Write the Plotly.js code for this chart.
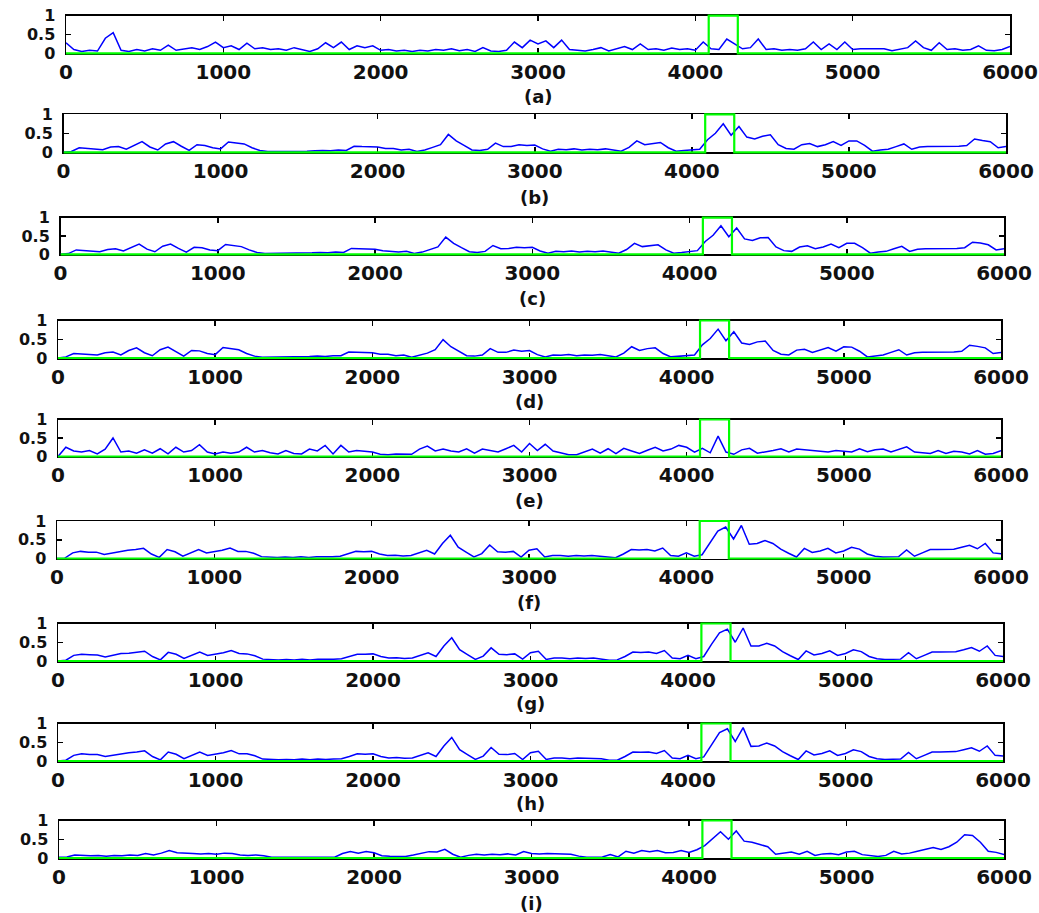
<!DOCTYPE html>
<html><head><meta charset="utf-8">
<script src="https://cdn.plot.ly/plotly-3.0.1.min.js"></script>
<style>html,body{margin:0;padding:0;background:#fff}#chart{width:1039px;height:913px}</style>
</head><body><div id="chart"></div>
<script>
// ---------------- data ----------------
const panelLabels = ['(a)','(b)','(c)','(d)','(e)','(f)','(g)','(h)','(i)'];
const xTickValues = [0,1000,2000,3000,4000,5000,6000];
const yTickValues = [0,0.5,1];
const yTickText = ['0','0.5','1'];
const roiStart = 4085, roiEnd = 4270, xMax = 6000;

const sampleX = [
0,50,100,150,200,250,300,350,400,450,
500,550,600,650,700,750,800,850,900,950,
1000,1050,1100,1150,1200,1250,1300,1350,1400,1450,
1500,1550,1600,1650,1700,1750,1800,1850,1900,1950,
2000,2050,2100,2150,2200,2250,2300,2350,2400,2450,
2500,2550,2600,2650,2700,2750,2800,2850,2900,2950,
3000,3050,3100,3150,3200,3250,3300,3350,3400,3450,
3500,3550,3600,3650,3700,3750,3800,3850,3900,3950,
4000,4050,4100,4150,4200,4250,4300,4350,4400,4450,
4500,4550,4600,4650,4700,4750,4800,4850,4900,4950,
5000,5050,5100,5150,5200,5250,5300,5350,5400,5450,
5500,5550,5600,5650,5700,5750,5800,5850,5900,5950,
6000];

const seriesA = [
0.28,0.10,0.05,0.08,0.06,0.40,0.55,0.08,0.05,0.10,
0.06,0.12,0.08,0.22,0.08,0.12,0.15,0.10,0.18,0.30,
0.15,0.20,0.10,0.27,0.12,0.15,0.10,0.12,0.08,0.15,
0.10,0.05,0.12,0.28,0.15,0.30,0.10,0.20,0.15,0.20,
0.08,0.10,0.06,0.08,0.05,0.08,0.06,0.10,0.08,0.12,
0.07,0.10,0.05,0.15,0.06,0.05,0.08,0.30,0.15,0.35,
0.25,0.33,0.15,0.35,0.10,0.08,0.06,0.10,0.15,0.06,
0.12,0.18,0.10,0.25,0.10,0.12,0.08,0.14,0.10,0.12,
0.08,0.30,0.12,0.10,0.38,0.25,0.12,0.15,0.38,0.10,
0.12,0.08,0.10,0.08,0.12,0.30,0.10,0.25,0.10,0.30,
0.10,0.12,0.12,0.13,0.12,0.07,0.10,0.15,0.33,0.15,
0.08,0.28,0.10,0.12,0.08,0.10,0.20,0.08,0.07,0.10,
0.18];

const seriesB = [
0.00,0.02,0.12,0.10,0.08,0.07,0.14,0.15,0.08,0.19,
0.28,0.14,0.06,0.22,0.28,0.16,0.05,0.20,0.18,0.12,
0.09,0.27,0.25,0.22,0.12,0.05,0.02,0.02,0.02,0.02,
0.02,0.03,0.04,0.05,0.04,0.06,0.05,0.16,0.15,0.14,
0.14,0.10,0.10,0.06,0.08,0.02,0.06,0.13,0.20,0.47,
0.30,0.18,0.06,0.05,0.08,0.24,0.15,0.15,0.20,0.18,
0.19,0.09,0.03,0.08,0.07,0.09,0.06,0.08,0.07,0.09,
0.06,0.03,0.13,0.30,0.20,0.24,0.26,0.12,0.03,0.05,
0.06,0.08,0.33,0.50,0.75,0.45,0.68,0.40,0.35,0.42,
0.46,0.20,0.10,0.08,0.20,0.23,0.15,0.20,0.28,0.18,
0.30,0.30,0.18,0.03,0.06,0.08,0.15,0.22,0.08,0.14,
0.15,0.15,0.15,0.15,0.16,0.18,0.35,0.31,0.28,0.12,
0.15];

const seriesC = [
0.00,0.02,0.12,0.11,0.08,0.07,0.13,0.15,0.09,0.18,
0.28,0.14,0.07,0.22,0.28,0.16,0.06,0.19,0.18,0.12,
0.10,0.27,0.24,0.21,0.12,0.05,0.02,0.02,0.02,0.02,
0.02,0.03,0.04,0.05,0.04,0.06,0.05,0.16,0.15,0.14,
0.14,0.10,0.09,0.06,0.08,0.02,0.06,0.13,0.20,0.47,
0.30,0.18,0.07,0.05,0.08,0.24,0.15,0.16,0.19,0.18,
0.19,0.09,0.03,0.08,0.07,0.09,0.06,0.08,0.07,0.09,
0.06,0.03,0.13,0.30,0.21,0.24,0.26,0.12,0.03,0.05,
0.07,0.10,0.35,0.52,0.78,0.48,0.72,0.42,0.38,0.45,
0.46,0.20,0.10,0.08,0.20,0.23,0.15,0.20,0.28,0.18,
0.30,0.30,0.18,0.03,0.06,0.08,0.15,0.22,0.08,0.14,
0.15,0.15,0.15,0.15,0.16,0.18,0.33,0.31,0.26,0.12,
0.15];

const seriesD = [
0.00,0.03,0.12,0.10,0.09,0.08,0.14,0.16,0.08,0.20,
0.27,0.14,0.06,0.22,0.29,0.16,0.05,0.20,0.19,0.12,
0.09,0.28,0.25,0.22,0.12,0.05,0.02,0.02,0.02,0.02,
0.02,0.03,0.04,0.05,0.04,0.06,0.06,0.16,0.15,0.14,
0.14,0.10,0.10,0.06,0.08,0.02,0.07,0.13,0.22,0.49,
0.30,0.17,0.06,0.05,0.08,0.25,0.15,0.15,0.21,0.18,
0.20,0.09,0.03,0.08,0.07,0.09,0.06,0.08,0.07,0.09,
0.06,0.03,0.13,0.30,0.20,0.25,0.27,0.12,0.03,0.05,
0.06,0.08,0.35,0.52,0.77,0.46,0.70,0.40,0.36,0.43,
0.45,0.20,0.10,0.08,0.21,0.23,0.15,0.21,0.28,0.18,
0.30,0.29,0.18,0.03,0.06,0.08,0.15,0.22,0.08,0.14,
0.15,0.15,0.15,0.15,0.16,0.18,0.34,0.31,0.27,0.12,
0.15];

const seriesE = [
0.00,0.25,0.15,0.12,0.16,0.07,0.20,0.50,0.12,0.15,
0.09,0.18,0.09,0.21,0.07,0.25,0.12,0.16,0.32,0.12,
0.07,0.12,0.09,0.12,0.25,0.12,0.16,0.10,0.07,0.16,
0.08,0.07,0.20,0.15,0.30,0.07,0.30,0.12,0.16,0.13,
0.12,0.06,0.05,0.07,0.07,0.06,0.20,0.28,0.15,0.20,
0.15,0.12,0.21,0.09,0.20,0.15,0.12,0.21,0.30,0.12,
0.35,0.16,0.33,0.15,0.09,0.05,0.05,0.12,0.20,0.09,
0.21,0.08,0.22,0.15,0.08,0.17,0.25,0.15,0.20,0.30,
0.25,0.12,0.22,0.10,0.55,0.12,0.06,0.18,0.22,0.09,
0.12,0.16,0.21,0.12,0.20,0.18,0.16,0.13,0.12,0.16,
0.14,0.12,0.21,0.13,0.18,0.20,0.12,0.18,0.26,0.12,
0.09,0.08,0.16,0.08,0.14,0.12,0.07,0.16,0.06,0.08,
0.16];

const seriesF = [
0.00,0.01,0.15,0.19,0.17,0.17,0.11,0.15,0.20,0.22,
0.24,0.27,0.12,0.03,0.24,0.18,0.06,0.16,0.24,0.15,
0.18,0.22,0.28,0.19,0.19,0.14,0.05,0.03,0.03,0.04,
0.03,0.05,0.03,0.05,0.04,0.05,0.06,0.12,0.19,0.18,
0.19,0.12,0.08,0.09,0.07,0.08,0.15,0.22,0.12,0.40,
0.62,0.30,0.17,0.04,0.13,0.36,0.18,0.17,0.19,0.04,
0.22,0.26,0.04,0.08,0.08,0.06,0.08,0.07,0.08,0.06,
0.02,0.02,0.12,0.24,0.23,0.24,0.20,0.28,0.08,0.06,
0.15,0.06,0.10,0.42,0.73,0.84,0.52,0.88,0.38,0.40,
0.48,0.40,0.25,0.14,0.04,0.27,0.16,0.20,0.27,0.15,
0.20,0.30,0.25,0.12,0.06,0.04,0.04,0.05,0.23,0.06,
0.15,0.24,0.24,0.24,0.25,0.30,0.35,0.26,0.40,0.15,
0.13];

const seriesG = [
0.00,0.02,0.15,0.18,0.17,0.16,0.11,0.16,0.20,0.21,
0.24,0.26,0.12,0.03,0.23,0.18,0.07,0.16,0.24,0.15,
0.18,0.22,0.28,0.20,0.19,0.14,0.05,0.03,0.03,0.04,
0.03,0.05,0.03,0.05,0.04,0.05,0.06,0.12,0.18,0.18,
0.19,0.12,0.08,0.09,0.07,0.08,0.15,0.22,0.12,0.40,
0.62,0.30,0.17,0.04,0.13,0.35,0.18,0.17,0.19,0.05,
0.22,0.26,0.04,0.08,0.08,0.06,0.08,0.07,0.08,0.06,
0.02,0.03,0.12,0.24,0.23,0.24,0.20,0.28,0.08,0.06,
0.15,0.06,0.12,0.45,0.75,0.85,0.50,0.88,0.40,0.40,
0.47,0.40,0.25,0.14,0.04,0.27,0.16,0.20,0.27,0.15,
0.20,0.30,0.25,0.12,0.06,0.04,0.04,0.05,0.22,0.06,
0.15,0.24,0.24,0.24,0.25,0.30,0.36,0.26,0.40,0.15,
0.12];

const seriesH = [
0.00,0.02,0.15,0.19,0.17,0.17,0.12,0.15,0.20,0.22,
0.24,0.27,0.12,0.03,0.24,0.18,0.06,0.16,0.24,0.15,
0.18,0.22,0.28,0.19,0.19,0.14,0.05,0.03,0.03,0.04,
0.03,0.05,0.03,0.05,0.04,0.05,0.06,0.12,0.19,0.18,
0.19,0.12,0.08,0.09,0.07,0.08,0.15,0.22,0.12,0.40,
0.63,0.30,0.17,0.04,0.13,0.36,0.18,0.17,0.20,0.04,
0.22,0.26,0.04,0.08,0.08,0.06,0.08,0.07,0.08,0.06,
0.02,0.02,0.12,0.24,0.23,0.24,0.20,0.28,0.08,0.06,
0.15,0.06,0.11,0.44,0.76,0.86,0.52,0.89,0.39,0.40,
0.48,0.40,0.25,0.14,0.04,0.27,0.16,0.20,0.27,0.15,
0.20,0.30,0.25,0.12,0.06,0.04,0.04,0.05,0.23,0.06,
0.15,0.24,0.24,0.24,0.25,0.30,0.35,0.26,0.40,0.15,
0.13];

const seriesI = [
0.02,0.03,0.08,0.07,0.06,0.07,0.05,0.07,0.06,0.08,
0.07,0.12,0.08,0.13,0.20,0.14,0.12,0.12,0.11,0.12,
0.10,0.13,0.12,0.08,0.07,0.08,0.06,0.02,0.02,0.02,
0.02,0.02,0.02,0.02,0.02,0.02,0.12,0.17,0.13,0.17,
0.14,0.06,0.05,0.05,0.04,0.08,0.13,0.17,0.16,0.23,
0.10,0.02,0.07,0.10,0.08,0.10,0.09,0.11,0.08,0.17,
0.12,0.11,0.12,0.12,0.11,0.10,0.05,0.02,0.02,0.03,
0.09,0.03,0.18,0.13,0.20,0.17,0.20,0.14,0.15,0.20,
0.15,0.22,0.33,0.52,0.70,0.50,0.72,0.45,0.42,0.36,
0.30,0.10,0.12,0.16,0.10,0.18,0.07,0.11,0.12,0.09,
0.16,0.18,0.09,0.06,0.04,0.07,0.18,0.11,0.13,0.18,
0.22,0.28,0.23,0.30,0.42,0.62,0.60,0.42,0.18,0.15,
0.09];

// ---------------- layout (pixel geometry of the 9 panels) ----------------
const W = 1039, H = 913;
const panelTop    = [15.7, 114.3, 217.7, 320.5, 419.5, 521, 623.5, 723.5, 820.5];
const panelBottom = [53.3, 152.3, 254.3, 358, 456.5, 558.5, 661, 761, 858];
const panelLeft   = [66, 63.5, 60.5, 58, 58, 57, 58, 58, 59];
const panelRight  = [1010, 1006, 1004, 1001, 1001, 1001, 1003, 1003, 1004];
const labelY      = [96, 197, 298, 401, 500, 602, 703, 803, 903];

const allSeries = [seriesA, seriesB, seriesC, seriesD, seriesE, seriesF, seriesG, seriesH, seriesI];

const traces = [];
const layout = {
  width: W, height: H,
  margin: {l: 0, r: 0, t: 0, b: 0},
  paper_bgcolor: '#fff', plot_bgcolor: '#fff',
  showlegend: false,
  shapes: [], annotations: []
};
const tickFontX = {family: 'DejaVu Sans', size: 20, color: '#111', weight: 'bold'};
const tickFontY = {family: 'DejaVu Sans', size: 16, color: '#111', weight: 'bold'};

allSeries.forEach((ys, i) => {
  const n = i + 1;
  const xa = n === 1 ? 'x' : 'x' + n;
  const ya = n === 1 ? 'y' : 'y' + n;
  const xKey = n === 1 ? 'xaxis' : 'xaxis' + n;
  const yKey = n === 1 ? 'yaxis' : 'yaxis' + n;
  traces.push({
    type: 'scatter', mode: 'lines', x: sampleX, y: ys,
    xaxis: xa, yaxis: ya,
    line: {color: '#0000ff', width: 1.5}, hoverinfo: 'skip'
  });
  layout[xKey] = {
    domain: [panelLeft[i] / W, panelRight[i] / W],
    anchor: ya, range: [0, xMax],
    tickvals: xTickValues, ticktext: xTickValues.map(String),
    ticks: 'inside', ticklen: 5, tickwidth: 1.5, tickcolor: '#000',
    showline: true, linecolor: '#000', linewidth: 1.5, mirror: 'ticks',
    showgrid: false, zeroline: false, tickfont: tickFontX,
    ticklabelstandoff: 0, layer: 'below traces', fixedrange: true
  };
  layout[yKey] = {
    domain: [1 - panelBottom[i] / H, 1 - panelTop[i] / H],
    anchor: xa, range: [0, 1],
    tickvals: yTickValues, ticktext: yTickText,
    ticks: 'inside', ticklen: 5, tickwidth: 1.5, tickcolor: '#000',
    showline: true, linecolor: '#000', linewidth: 1.5, mirror: 'ticks',
    showgrid: false, zeroline: false, tickfont: tickFontY,
    ticklabelstandoff: 6, layer: 'below traces', fixedrange: true
  };
  // green ground-truth window (0 outside, full height inside)
  layout.shapes.push({
    type: 'path', xref: xa, yref: ya + ' domain', layer: 'above',
    path: `M 0,0 L ${roiStart},0 L ${roiStart},1 L ${roiEnd},1 L ${roiEnd},0 L ${xMax},0`,
    line: {color: '#00ff00', width: 2.2}
  });
  layout.annotations.push({
    xref: xa + ' domain', x: 0.5, yref: 'paper', y: 1 - labelY[i] / H,
    xanchor: 'center', yanchor: 'middle', showarrow: false,
    text: panelLabels[i],
    font: {family: 'DejaVu Sans', size: 18, color: '#111', weight: 'bold'}
  });
});

Plotly.newPlot('chart', traces, layout, {staticPlot: true, displayModeBar: false});
</script>
</body></html>
